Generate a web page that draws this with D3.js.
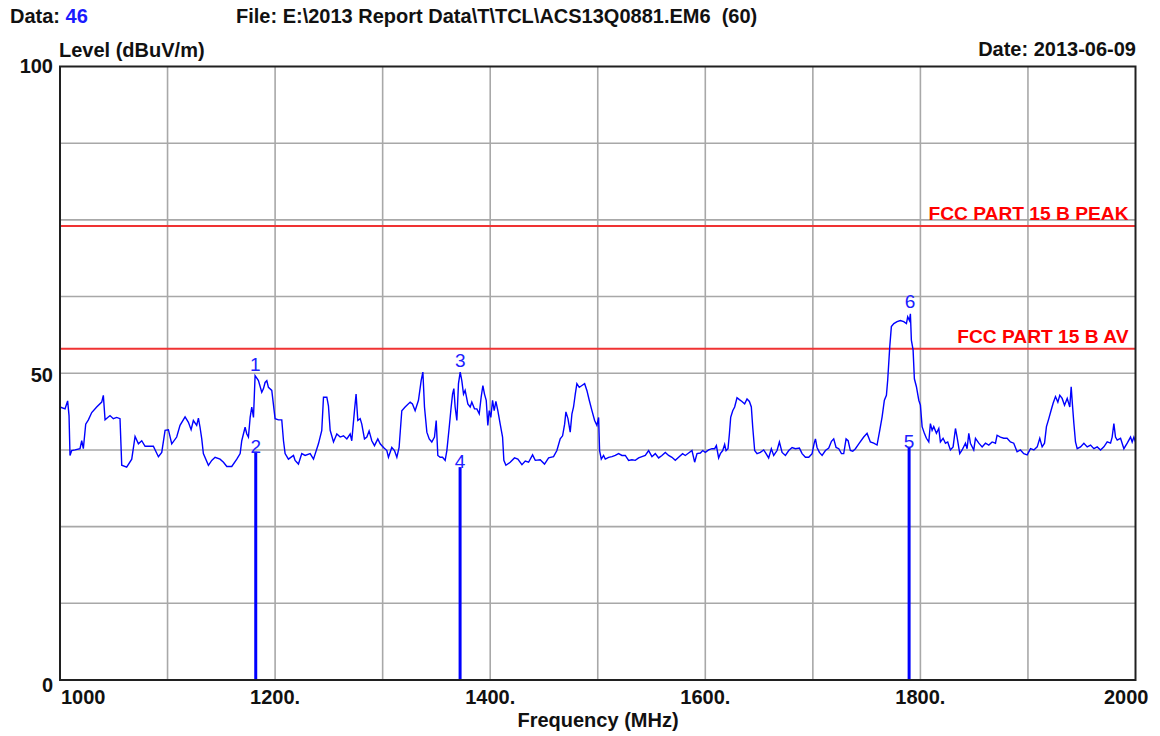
<!DOCTYPE html>
<html><head><meta charset="utf-8">
<script src="https://cdn.jsdelivr.net/npm/d3@7"></script>
<style>
body{margin:0;background:#fff}
svg{display:block}
text{font-family:"Liberation Sans",Arial,Helvetica,sans-serif}
</style>
</head><body><svg id="c" width="1160" height="736"></svg>
<script>
// ---------- data ----------
const dataNo = "46";
const fileName = "E:\\2013 Report Data\\T\\TCL\\ACS13Q0881.EM6  (60)";
const dateText = "2013-06-09";
const yTitle = "Level (dBuV/m)";
const xTitle = "Frequency (MHz)";

const xGridTicks = [1100,1200,1300,1400,1500,1600,1700,1800,1900];
const xLabelTicks = [1000,1200,1400,1600,1800,2000];
const xLabelTexts = ["1000","1200.","1400.","1600.","1800.","2000"];
const yGridTicks = [12.5,25,37.5,50,62.5,75,87.5];
const yLabelTicks = [0,50,100];

const limitLevels = [74,54];
const limitNames = ["FCC PART 15 B PEAK","FCC PART 15 B AV"];

const markerIds = ["1","2","3","4","5","6"];
const markerFreqs = [1181.6,1182,1372.1,1372,1789.5,1790.4];
const markerLevels = [49.6,37.2,50.2,34.7,38.0,59.9];
const markerIsBar = [false,true,false,true,true,false];

// trace: [frequency MHz, level dBuV/m]
const trace = [
[1000,44.5],[1004.7,44.2],[1007.1,45.5],[1008.4,43.1],[1009.3,36.6],[1010.9,37.4],[1014.0,37.5],[1018.6,37.7],[1020.2,39.0],[1021.7,37.7],[1023.9,41.7],[1026.4,42.4],[1029.5,43.6],[1034.1,44.5],[1038.8,45.3],[1040.3,46.4],[1041.9,42.4],[1046.5,43.1],[1049.6,42.6],[1052.7,42.8],[1055.8,42.6],[1057.4,35.0],[1062.0,34.7],[1066.7,36.0],[1069.8,39.7],[1072.9,38.5],[1076.0,39.0],[1079.1,38.1],[1086.8,38.1],[1091.5,36.4],[1094.6,37.1],[1097.7,40.7],[1100.8,40.8],[1103.9,38.5],[1108.5,39.6],[1111.6,41.5],[1116.3,42.9],[1119.4,42.0],[1121.9,40.8],[1124.0,42.3],[1127.1,41.5],[1128.7,42.7],[1130.2,41.2],[1131.8,39.3],[1133.3,36.9],[1138.0,35.0],[1141.1,35.8],[1144.2,36.3],[1148.8,36.0],[1152.0,35.5],[1155.1,34.8],[1159.7,34.8],[1164.4,36.0],[1167.5,36.9],[1169.0,39.0],[1172.1,41.2],[1173.7,40.1],[1175.2,39.6],[1176.8,42.8],[1178.3,44.5],[1179.9,42.8],[1181.4,49.6],[1184.5,48.8],[1187.6,46.9],[1189.2,47.5],[1190.7,48.5],[1192.3,48.8],[1193.8,47.7],[1196.9,47.2],[1200.0,42.6],[1203.1,42.4],[1206.2,42.4],[1207.8,39.0],[1209.3,36.9],[1212.4,36.0],[1217.1,36.6],[1218.6,35.8],[1221.7,35.2],[1224.8,36.9],[1227.9,36.6],[1232.6,36.9],[1235.7,36.0],[1240.3,38.5],[1243.4,40.7],[1245.0,46.1],[1248.1,46.1],
[1249.6,44.7],[1251.2,40.7],[1254.3,38.8],[1257.4,40.1],[1260.5,39.6],[1263.6,39.8],[1266.7,39.3],[1269.8,40.1],[1271.3,39.0],[1273.8,43.9],[1275.3,46.6],[1276.9,42.3],[1279.1,42.6],[1280.6,41.7],[1283.1,39.3],[1285.3,39.6],[1287.4,40.6],[1289.9,39.0],[1292.4,38.2],[1295.5,39.3],[1297.7,38.5],[1300.8,37.9],[1303.9,37.4],[1305.4,36.3],[1308.5,37.9],[1311.0,37.4],[1313.2,36.3],[1315.3,37.9],[1317.8,43.9],[1320.9,44.5],[1325.6,45.3],[1327.7,45.0],[1330.2,43.9],[1333.3,45.6],[1335.8,48.8],[1337.4,50.2],[1338.9,44.5],[1341.1,40.4],[1343.3,39.3],[1345.7,38.8],[1348.2,39.6],[1349.8,42.3],[1351.3,36.6],[1353.5,36.3],[1355.7,36.3],[1358.1,35.8],[1359.7,37.4],[1361.9,41.2],[1363.7,44.5],[1365.0,46.6],[1366.2,47.5],[1367.4,44.5],[1369.0,42.3],[1370.5,48.3],[1372.1,50.2],[1373.6,48.8],[1375.2,46.6],[1376.7,47.2],[1379.2,45.0],[1381.4,44.5],[1382.9,45.3],[1385.4,44.2],[1387.6,44.2],[1389.8,43.4],[1391.6,46.1],[1393.2,48.0],[1394.7,46.6],[1396.3,45.6],[1397.8,41.5],[1399.1,43.9],[1400.6,42.8],[1402.2,45.6],[1403.7,43.9],[1405.3,45.4],[1407.1,43.9],[1409.3,41.7],[1411.5,39.6],[1412.7,35.8],[1414.6,35.0],[1418.6,35.5],[1422.6,36.2],[1425.7,36.0],[1429.5,35.1],[1432.6,35.7],[1435.7,35.5],[1439.4,36.7],[1441.9,35.8],[1446.5,35.9],[1450.5,35.2],[1454.3,36.2],[1458.9,36.4],[1462.0,37.4],[1465.1,39.3],[1467.3,39.8],[1469.2,41.7],[1470.4,43.7],[1472.3,42.6],[1474.4,40.4],[1476.0,43.4],[1477.5,44.5],[1479.1,46.6],[1480.6,48.3],[1482.8,47.7],[1485.3,48.0],[1487.8,48.3],[1489.9,47.2],[1492.1,45.6],[1494.6,43.9],[1497.1,42.3],[1499.2,41.5],[1500.8,42.8],[1501.7,37.4],[1503.3,36.0],[1505.4,36.6],
[1507.0,36.0],[1510.1,36.3],[1513.2,36.4],[1516.3,36.6],[1519.4,36.9],[1522.5,36.6],[1525.6,36.6],[1528.7,35.8],[1531.8,35.9],[1534.9,35.8],[1538.0,36.2],[1541.1,36.4],[1544.2,36.6],[1547.3,37.4],[1550.4,36.4],[1553.5,36.9],[1556.6,36.2],[1559.7,36.6],[1562.8,37.1],[1565.9,36.6],[1569.0,36.3],[1572.1,35.8],[1575.2,36.3],[1578.9,36.9],[1581.4,36.6],[1584.5,37.0],[1587.6,37.4],[1590.1,35.5],[1592.3,36.9],[1595.4,37.0],[1597.6,37.4],[1600.0,37.1],[1603.1,37.5],[1606.2,37.7],[1608.7,37.7],[1610.3,38.2],[1612.4,36.2],[1614.0,36.9],[1616.2,37.4],[1618.0,38.4],[1619.3,37.4],[1621.1,37.7],[1622.4,40.1],[1623.6,42.8],[1625.5,43.9],[1627.3,44.5],[1629.5,46.0],[1631.7,45.7],[1634.1,45.4],[1636.6,45.0],[1638.8,45.8],[1641.0,45.4],[1642.8,44.5],[1644.1,41.2],[1645.9,37.4],[1648.1,36.9],[1651.2,37.1],[1654.3,37.5],[1656.5,36.9],[1658.9,36.2],[1661.4,37.7],[1663.6,36.6],[1666.7,37.4],[1668.9,38.8],[1671.4,37.1],[1674.5,36.6],[1677.6,37.4],[1680.7,37.9],[1683.8,37.7],[1687.5,37.8],[1690.0,36.9],[1693.1,36.3],[1696.2,36.3],[1699.3,36.9],[1701.1,38.5],[1702.4,39.3],[1703.9,37.9],[1706.1,37.1],[1708.6,36.6],[1711.7,37.4],[1714.8,37.8],[1717.3,38.9],[1719.4,39.3],[1721.6,37.9],[1724.1,37.7],[1726.6,36.9],[1728.7,36.9],[1730.9,39.3],[1732.8,39.0],[1734.9,37.4],[1737.1,37.3],[1739.6,37.7],[1742.7,38.5],
[1747.3,39.6],[1750.4,40.2],[1753.5,38.8],[1756.6,38.6],[1759.7,38.3],[1762.2,40.7],[1764.4,42.9],[1766.5,45.6],[1768.4,46.4],[1769.6,48.9],[1771.5,54.3],[1773.0,57.6],[1775.3,58.1],[1778.3,58.4],[1781.4,58.6],[1784.5,58.4],[1787.0,58.1],[1788.2,59.2],[1789.8,58.6],[1790.7,59.7],[1791.6,55.4],[1793.2,53.8],[1794.4,49.1],[1796.3,47.8],[1798.5,45.6],[1800.0,44.8],[1801.6,41.3],[1803.7,40.2],[1805.6,39.4],[1807.8,38.8],[1809.3,41.8],[1810.9,40.7],[1812.4,41.3],[1814.9,40.2],[1817.1,41.0],[1818.6,38.8],[1821.1,39.4],[1823.3,38.6],[1825.4,38.8],[1827.9,37.5],[1830.4,38.0],[1832.6,41.0],[1834.1,39.6],[1836.6,36.9],[1838.8,37.5],[1841.9,38.6],[1843.4,37.7],[1845.0,40.2],[1846.5,38.6],[1849.6,37.5],[1851.2,39.4],[1854.3,38.6],[1857.4,38.0],[1860.5,38.6],[1863.6,38.3],[1866.7,38.8],[1869.8,38.6],[1871.3,39.9],[1874.4,39.6],[1877.5,39.4],[1880.6,39.4],[1883.7,38.8],[1886.8,38.6],[1889.9,37.2],[1893.0,37.5],[1896.1,36.9],[1899.3,36.7],[1902.4,37.7],[1905.5,37.5],[1908.6,38.0],[1911.0,39.4],[1913.2,38.0],[1915.4,38.6],[1917.2,41.3],[1919.4,42.6],[1921.6,44.0],[1923.4,45.1],[1925.6,46.2],[1927.8,45.3],[1929.6,46.4],[1931.8,45.9],[1934.0,44.8],[1936.5,45.9],[1938.9,44.5],[1940.2,47.8],[1941.4,44.8],[1942.7,41.8],[1944.2,38.8],[1945.8,37.7],[1948.9,38.0],[1952.0,38.6],[1955.1,38.0],[1958.2,38.3],[1961.3,37.7],[1964.4,38.0],[1967.5,37.5],[1970.6,38.0],[1973.7,38.8],[1976.8,38.6],[1978.3,39.6],[1979.9,41.8],[1981.4,39.6],[1983.0,39.1],[1986.1,39.4],[1989.2,37.7],[1992.3,38.6],[1995.4,39.6],[1996.9,38.8],[1998.5,39.6],[2000,38.8]
];

// ---------- drawing ----------
const svg = d3.select("#c");
const L = 60, R = 1135.5, T = 66.5, B = 680;
const x = d3.scaleLinear().domain([1000,2000]).range([L,R]);
const y = d3.scaleLinear().domain([0,100]).range([B,T]);
const yLab = d3.scaleLinear().domain([0,100]).range([692,72.7]);
const FS = "20px";
const BLUE = "#0000ff";

// grid
svg.append("g").selectAll("line").data(xGridTicks).join("line")
  .attr("x1",d=>x(d)).attr("x2",d=>x(d)).attr("y1",T).attr("y2",B)
  .attr("stroke","#a8a8a8").attr("stroke-width",1.6);
svg.append("g").selectAll("line").data(yGridTicks).join("line")
  .attr("x1",L).attr("x2",R).attr("y1",d=>y(d)).attr("y2",d=>y(d))
  .attr("stroke","#a8a8a8").attr("stroke-width",1.6);

// limit lines
svg.append("g").selectAll("line").data(limitLevels).join("line")
  .attr("x1",L).attr("x2",R).attr("y1",d=>y(d)).attr("y2",d=>y(d))
  .attr("stroke","#f03333").attr("stroke-width",2);
svg.append("g").selectAll("text").data(limitLevels).join("text")
  .attr("x",R-7).attr("y",d=>y(d)-6).attr("text-anchor","end")
  .attr("font-size","19.2px").attr("font-weight","bold").attr("fill","#ff0000")
  .text((d,i)=>limitNames[i]);

// trace
const line = d3.line().x(d=>x(d[0])).y(d=>y(d[1]));
svg.append("path").datum(trace).attr("d",line)
  .attr("fill","none").attr("stroke",BLUE).attr("stroke-width",1.4)
  .attr("stroke-linejoin","miter");

// marker bars
const markers = markerIds.map((id,i)=>({id,f:markerFreqs[i],v:markerLevels[i],bar:markerIsBar[i]}));
svg.append("g").selectAll("line").data(markers.filter(m=>m.bar)).join("line")
  .attr("x1",d=>x(d.f)).attr("x2",d=>x(d.f)).attr("y1",y(0)).attr("y2",d=>y(d.v))
  .attr("stroke",BLUE).attr("stroke-width",3);
svg.append("g").selectAll("text").data(markers).join("text")
  .attr("x",d=>x(d.f)).attr("y",d=>d.bar ? y(d.v)+1 : y(d.v)-5)
  .attr("text-anchor","middle").attr("font-size","19px").attr("fill","#2020ff")
  .text(d=>d.id);

// frame
svg.append("rect").attr("x",L).attr("y",T).attr("width",R-L).attr("height",B-T)
  .attr("fill","none").attr("stroke","#202020").attr("stroke-width",2);

// axis labels
svg.append("g").selectAll("text").data(yLabelTicks).join("text")
  .attr("x",53).attr("y",d=>yLab(d)).attr("text-anchor","end")
  .attr("font-size",FS).attr("font-weight","bold").attr("fill","#111")
  .text(d=>d);
const xAnchor = i => i===0 ? "start" : (i===xLabelTicks.length-1 ? "end" : "middle");
svg.append("g").selectAll("text").data(xLabelTicks).join("text")
  .attr("x",(d,i)=> i===0 ? x(d)+1 : (i===xLabelTicks.length-1 ? x(d)+13 : x(d)))
  .attr("y",704).attr("text-anchor",(d,i)=>xAnchor(i))
  .attr("font-size",FS).attr("font-weight","bold").attr("fill","#111")
  .text((d,i)=>xLabelTexts[i]);

// titles
const t1 = svg.append("text").attr("x",10).attr("y",22.5).attr("font-size",FS).attr("font-weight","bold").attr("fill","#111");
t1.append("tspan").text("Data: ");
t1.append("tspan").attr("fill","#1a1aff").text(dataNo);
svg.append("text").attr("x",236).attr("y",22.5).attr("font-size",FS).attr("font-weight","bold").attr("fill","#111")
  .attr("xml:space","preserve").style("white-space","pre").text("File: " + fileName);
svg.append("text").attr("x",59).attr("y",56.5).attr("font-size",FS).attr("font-weight","bold").attr("fill","#111").text(yTitle);
svg.append("text").attr("x",1136).attr("y",56).attr("text-anchor","end").attr("font-size",FS).attr("font-weight","bold").attr("fill","#111").text("Date: " + dateText);
svg.append("text").attr("x",598).attr("y",727).attr("text-anchor","middle").attr("font-size",FS).attr("font-weight","bold").attr("fill","#111").text(xTitle);
</script>
</body></html>
